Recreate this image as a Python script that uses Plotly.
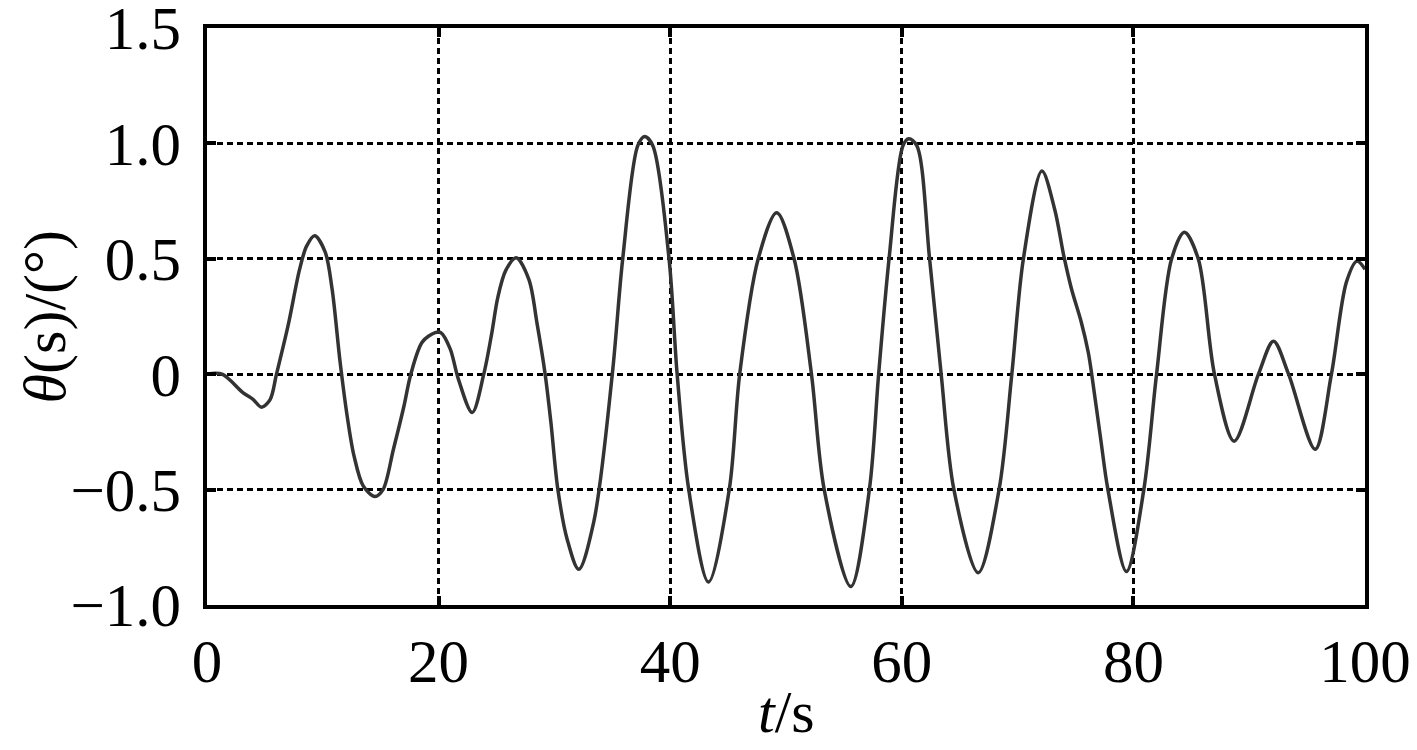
import plotly.graph_objects as go

# Data
t_s = [0, 1.3, 3.1, 4.0, 4.7, 5.45, 6.0, 7.0, 8.0, 8.6, 9.3, 10.2, 10.8, 11.5, 12.1,
       12.7, 13.5, 14.5, 15.2, 16.1, 17.0, 17.6, 18.6, 19.7, 20.2, 21.0, 21.7, 22.9,
       23.9, 24.6, 25.1, 25.8, 26.7, 27.8, 28.5, 29.2, 29.7, 30.3, 31.1, 32.1, 33.4,
       35.0, 35.9, 37.2, 37.8, 38.5, 39.9, 40.6, 41.6, 43.3, 45.1, 46.0, 47.6, 49.2,
       50.7, 52.2, 53.3, 55.6, 57.2, 58.0, 58.9, 60.1, 60.6, 61.3, 62.4, 63.4, 64.5,
       66.6, 68.4, 69.5, 70.5, 72.1, 73.2, 74.0, 74.65, 75.5, 76.1, 76.4, 77.2, 77.8,
       79.4, 80.9, 82.0, 83.3, 84.4, 85.6, 87.0, 88.7, 90.8, 92.1, 93.4, 95.7, 97.1,
       98.4, 99.3, 100]
theta_deg = [0, 0, -0.08, -0.11, -0.143, -0.11, 0.0, 0.21, 0.455, 0.555, 0.60, 0.53, 0.37,
             0.05, -0.18, -0.355, -0.485, -0.53, -0.5, -0.325, -0.14, 0.0, 0.14, 0.18,
             0.18, 0.11, -0.02, -0.166, 0.0, 0.18, 0.33, 0.45, 0.505, 0.41, 0.22, 0.0,
             -0.21, -0.5, -0.715, -0.845, -0.64, 0.0, 0.5, 0.99, 1.03, 0.99, 0.5, 0.0,
             -0.5, -0.90, -0.5, 0.0, 0.5, 0.70, 0.5, 0.0, -0.5, -0.92, -0.5, 0.0, 0.5,
             0.99, 1.02, 0.99, 0.5, 0.0, -0.5, -0.86, -0.5, 0.0, 0.5, 0.88, 0.715, 0.51,
             0.37, 0.225, 0.095, 0.0, -0.29, -0.5, -0.855, -0.5, 0.0, 0.5, 0.615, 0.5,
             0.0, -0.29, 0.0, 0.143, 0.0, -0.325, 0.0, 0.40, 0.49, 0.455]

x_ticks = [0, 20, 40, 60, 80, 100]
x_ticklabels = ["0", "20", "40", "60", "80", "100"]
y_ticks = [-1.0, -0.5, 0, 0.5, 1.0, 1.5]
y_ticklabels = ["\u22121.0", "\u22120.5", "0", "0.5", "1.0", "1.5"]

FONT = "Liberation Serif, Times New Roman, serif"

fig = go.Figure()
fig.add_trace(go.Scatter(
    x=t_s, y=theta_deg, mode="lines",
    line=dict(color="#333333", width=3.5, shape="spline", smoothing=0.9),
    showlegend=False, hoverinfo="skip",
))

axis_common = dict(
    showline=True, linecolor="black", linewidth=3.5, mirror="ticks",
    ticks="inside", ticklen=9, tickwidth=3.5, tickcolor="black",
    showgrid=True, gridcolor="black", gridwidth=3, griddash="6px,4px",
    zeroline=False, ticklabeloverflow="allow",
    tickfont=dict(family=FONT, size=61, color="black"),
)

fig.update_xaxes(range=[0, 100], tickvals=x_ticks, ticktext=x_ticklabels,
                 ticklabelstandoff=0, **axis_common)
fig.update_yaxes(range=[-1.0, 1.5], tickvals=y_ticks, ticktext=y_ticklabels,
                 ticklabelstandoff=10, **axis_common)

fig.add_annotation(
    text="<i>θ</i>(s)/(°)", xref="paper", yref="paper", x=-0.14, y=0.5,
    xanchor="center", yanchor="middle", textangle=-90, showarrow=False,
    font=dict(family=FONT, size=60, color="black"),
)
fig.add_annotation(
    text="<i>t</i>/s", xref="paper", yref="paper", x=0.5, y=-0.185,
    xanchor="center", yanchor="middle", showarrow=False,
    font=dict(family=FONT, size=60, color="black"),
)

# page body has an 8px margin, so the figure is 8px smaller than the window
fig.update_layout(
    width=1409, height=742,
    margin=dict(l=199, r=52, t=20, b=145, autoexpand=False),
    paper_bgcolor="white", plot_bgcolor="white",
)

fig.write_html("out.html")
